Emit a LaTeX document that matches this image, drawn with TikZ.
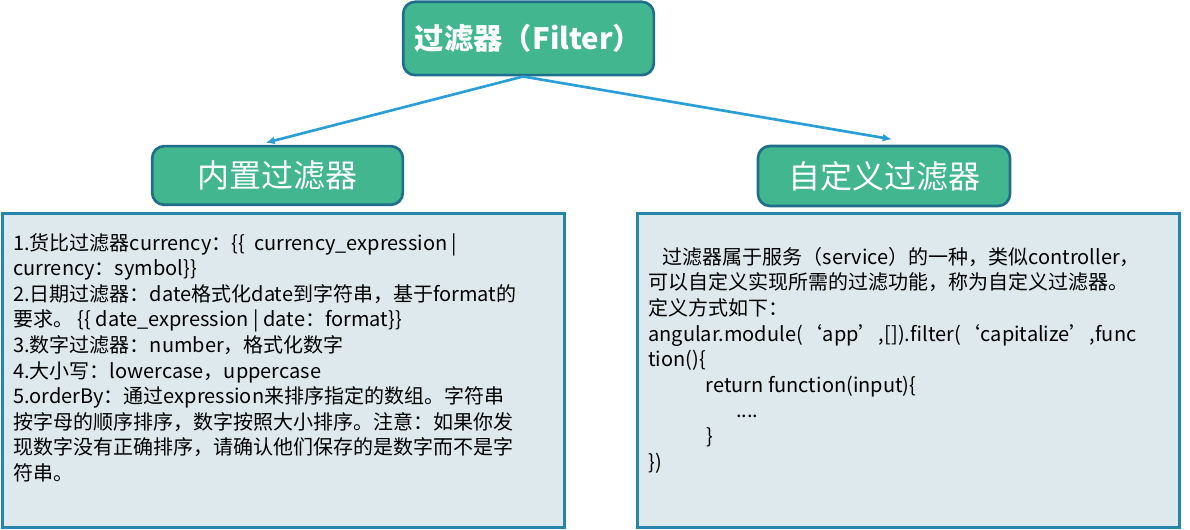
\documentclass[tikz,border=0pt]{standalone}
\usepackage{fontspec}
\setmainfont{Noto Sans CJK SC}
\usetikzlibrary{arrows.meta}
\definecolor{headgreen}{HTML}{42B68F}
\definecolor{headedge}{HTML}{1F6E8C}
\definecolor{panelfill}{HTML}{DDE9EC}
\definecolor{paneledge}{HTML}{2685A9}
\definecolor{arrowcol}{HTML}{2A9ED6}

\begin{document}
\begin{tikzpicture}[x=0.75pt, y=-0.75pt,
  headbox/.style={draw=headedge, line width=2pt, fill=headgreen, rounded corners=9pt,
    text=white, inner sep=0pt},
  panel/.style={draw=paneledge, line width=2.2pt, fill=panelfill, inner sep=0pt},
  bodytext/.style={anchor=north west, align=left, inner sep=0pt,
    font=\fontsize{15}{19.2}\selectfont},
  link/.style={arrowcol, line width=2pt, -{Latex[length=7pt,width=6pt]}}]

% canvas 1190 x 530 px, y runs downwards
\useasboundingbox (0,0) rectangle (1190,530);

% --- headings ---
\node[headbox, minimum width=188pt, minimum height=55pt,
  font=\fontsize{22}{26}\selectfont\bfseries] (top) at (528.5,38.5) {过滤器（Filter）};
\node[headbox, minimum width=188pt, minimum height=44pt,
  font=\fontsize{24}{28}\selectfont] (lhead) at (277.5,175.5) {内置过滤器};
\node[headbox, minimum width=189pt, minimum height=45pt,
  font=\fontsize{24}{28}\selectfont] (rhead) at (884,176) {自定义过滤器};

% --- arrows ---
\draw[link] ([xshift=-4pt]top.south) -- ([xshift=-9pt,yshift=1.5pt]lhead.north);
\draw[link] ([xshift=-4pt]top.south) -- ([xshift=6pt,yshift=4pt]rhead.north);

% --- panels ---
\node[panel, minimum width=422pt, minimum height=236pt] (lpanel) at (283.5,370.5) {};
\node[panel, minimum width=407pt, minimum height=236pt] (rpanel) at (908.5,370.5) {};

\node[bodytext] (ltext) at (13,233) {%
1.货比过滤器currency：\{\{\ \ currency\_expression |\\
currency：symbol\}\}\\
2.日期过滤器：date格式化date到字符串，基于format的\\
要求。 \{\{ date\_expression | date：format\}\}\\
3.数字过滤器：number，格式化数字\\
4.大小写：lowercase，uppercase\\
5.orderBy：通过expression来排序指定的数组。字符串\\
按字母的顺序排序，数字按照大小排序。注意：如果你发\\
现数字没有正确排序，请确认他们保存的是数字而不是字\\
符串。};

\node[bodytext] (rtext) at (648,247) {%
\hspace*{11pt}过滤器属于服务（service）的一种，类似controller，\\
可以自定义实现所需的过滤功能，称为自定义过滤器。\\
定义方式如下：\\
angular.module(‘app’,[]).filter(‘capitalize’,func\\
tion()\{\\
\hspace*{43pt}return function(input)\{\\
\hspace*{66pt}....\\
\hspace*{44pt}\}\\
\})};

\end{tikzpicture}
\end{document}
